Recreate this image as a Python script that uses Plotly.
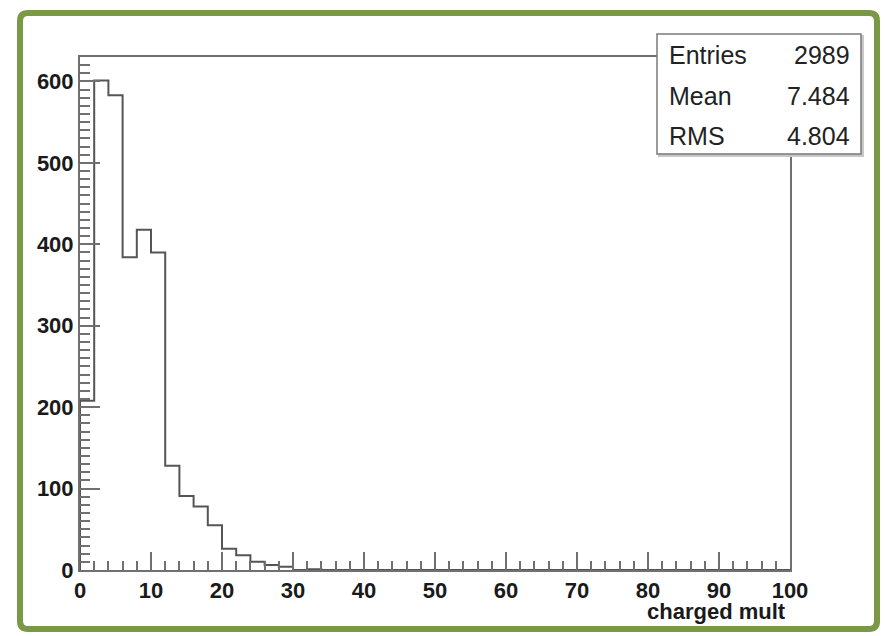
import plotly.graph_objects as go

# ---- data ----
bin_lo = 0
bin_hi = 100
bin_width = 2
counts = [208, 601, 583, 384, 418, 390, 128, 91, 78, 55,
          26, 18, 10, 6, 4, 0, 1, 0, 0, 0,
          0, 0, 0, 0, 0, 0, 0, 0, 0, 0,
          0, 0, 0, 0, 0, 0, 0, 0, 0, 0,
          0, 0, 0, 0, 0, 0, 0, 0, 0, 0]
x_title = "charged mult"
stat_names = ["Entries", "Mean", "RMS"]
stat_values = ["2989", "7.484", "4.804"]

edges = [bin_lo + i * bin_width for i in range(len(counts) + 1)]
xs = [edges[0]] + edges
ys = [0] + counts + [counts[-1]]

W, H = 889, 636
L, R, T, B = 80, 790, 57, 570


def px(x):
    return (x - L) / (R - L)


def py(y):
    return (B - y) / (B - T)


fig = go.Figure()
fig.add_trace(go.Scatter(x=xs, y=ys, mode="lines", line=dict(shape="hv", color="#555555", width=2),
                         hoverinfo="skip", showlegend=False))

axis_color = "#707070"
tick_font = dict(family="Liberation Sans, Arial, sans-serif", size=22, color="#1a1a1a", weight="bold")

fig.update_layout(
    width=W, height=H,
    margin=dict(l=L, r=W - R, t=T, b=H - B, pad=0),
    paper_bgcolor="white", plot_bgcolor="white",
    xaxis=dict(range=[0, 100], dtick=10, tick0=0, showgrid=False, zeroline=False,
               showline=True, linecolor=axis_color, linewidth=2, mirror=True,
               ticks="inside", ticklen=18, tickwidth=1.5, tickcolor=axis_color,
               minor=dict(dtick=2, ticks="inside", ticklen=9, tickwidth=1.5, tickcolor=axis_color),
               tickfont=tick_font),
    yaxis=dict(range=[0, 630], dtick=100, tick0=0, showgrid=False, zeroline=False,
               showline=True, linecolor=axis_color, linewidth=2, mirror=True,
               ticks="inside", ticklen=20, tickwidth=1.5, tickcolor=axis_color,
               minor=dict(dtick=10, ticks="inside", ticklen=10, tickwidth=1.5, tickcolor=axis_color),
               tickfont=tick_font),
)

# axis title
fig.add_annotation(x=px(788), y=py(611), xref="paper", yref="paper", text=x_title,
                   showarrow=False, xanchor="right", yanchor="middle",
                   font=dict(family="Liberation Sans, Arial, sans-serif", size=22, color="#1a1a1a", weight="bold"))

# green frame around the canvas
gl, gr, gt, gb, rad = 20, 877, 13, 629, 8
path = (f"M {px(gl + rad)} {py(gt)} L {px(gr - rad)} {py(gt)} "
        f"Q {px(gr)} {py(gt)} {px(gr)} {py(gt + rad)} L {px(gr)} {py(gb - rad)} "
        f"Q {px(gr)} {py(gb)} {px(gr - rad)} {py(gb)} L {px(gl + rad)} {py(gb)} "
        f"Q {px(gl)} {py(gb)} {px(gl)} {py(gb - rad)} L {px(gl)} {py(gt + rad)} "
        f"Q {px(gl)} {py(gt)} {px(gl + rad)} {py(gt)} Z")
fig.add_shape(type="path", path=path, xref="paper", yref="paper",
              line=dict(color="#7a9845", width=6), layer="above")

# stats box with shadow
bx0, bx1, by0, by1 = 657, 861, 34, 154
fig.add_shape(type="rect", xref="paper", yref="paper",
              x0=px(bx0 + 2), x1=px(bx1 + 2), y0=py(by0 + 2), y1=py(by1 + 2),
              line=dict(color="#c8c8c8", width=2), fillcolor="#c8c8c8", layer="above")
fig.add_shape(type="rect", xref="paper", yref="paper",
              x0=px(bx0), x1=px(bx1), y0=py(by0), y1=py(by1),
              line=dict(color="#7a7a7a", width=1.5), fillcolor="white", layer="above")

row_y = [55, 96, 136]
stat_font = dict(family="Liberation Sans, Arial, sans-serif", size=25, color="#222222")
for name, val, yy in zip(stat_names, stat_values, row_y):
    fig.add_annotation(x=px(667), y=py(yy), xref="paper", yref="paper", text=name,
                       showarrow=False, xanchor="left", yanchor="middle", font=stat_font)
    fig.add_annotation(x=px(852), y=py(yy), xref="paper", yref="paper", text=val,
                       showarrow=False, xanchor="right", yanchor="middle", font=stat_font)

fig.write_html("out.html")
